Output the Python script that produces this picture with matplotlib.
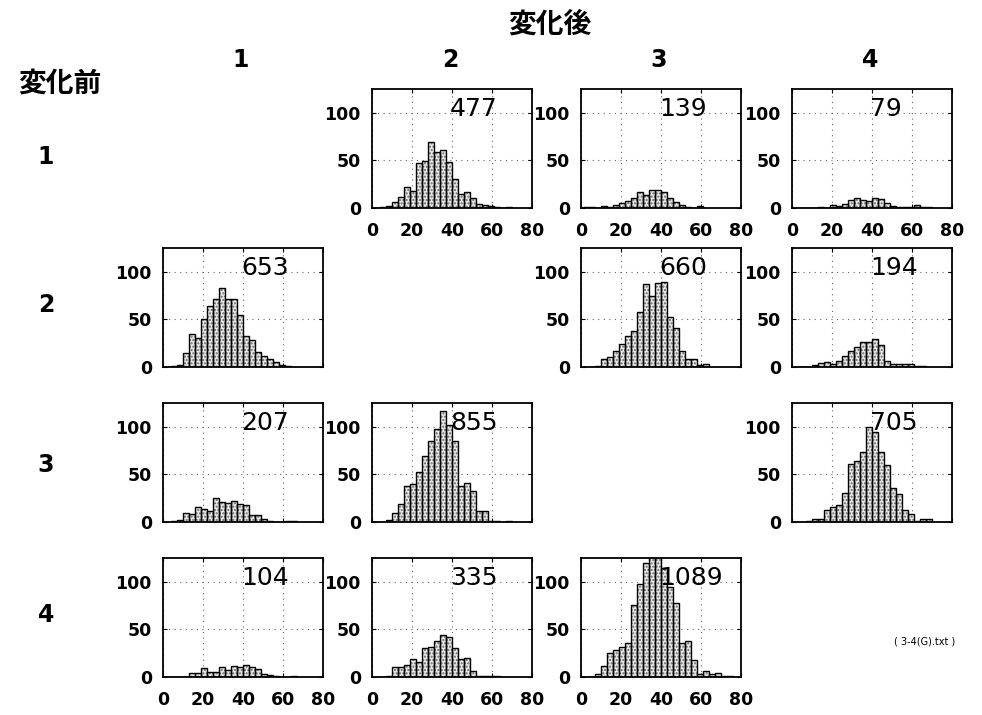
import numpy as np
import matplotlib
matplotlib.use("Agg")
import matplotlib.pyplot as plt

plt.rcParams['font.family'] = ['DejaVu Sans', 'Noto Sans CJK JP']

# histogram bins: width 3, first bin starts at 1
BIN_WIDTH = 3
BIN_LEFT = np.arange(1, 79, BIN_WIDTH)

# counts per bin (row = before, col = after)
C_1_2 = [0, 1, 2, 6, 12, 22, 18, 47, 49, 69, 59, 61, 48, 30, 15, 17, 10, 4, 3, 2, 1, 0, 1]
C_1_3 = [1, 1, 0, 2, 1, 3, 5, 7, 10, 17, 14, 19, 19, 17, 11, 6, 3, 1, 0, 2]
C_1_4 = [0, 0, 0, 0, 1, 0, 3, 2, 4, 8, 11, 8, 7, 11, 9, 5, 2, 1, 1, 1, 3, 1, 1]
C_2_1 = [0, 1, 2, 15, 35, 30, 50, 64, 71, 83, 71, 71, 55, 33, 28, 16, 12, 8, 5, 2, 1]
C_2_3 = [0, 0, 1, 8, 10, 17, 24, 33, 38, 58, 87, 75, 88, 89, 53, 41, 17, 8, 8, 2, 3]
C_2_4 = [0, 0, 0, 2, 4, 5, 3, 6, 12, 17, 21, 26, 26, 29, 23, 6, 3, 3, 3, 3, 1, 1]
C_3_1 = [0, 1, 2, 9, 8, 16, 14, 12, 25, 21, 20, 22, 19, 18, 7, 7, 3, 1, 0, 0, 1, 1]
C_3_2 = [0, 0, 2, 9, 19, 38, 40, 52, 69, 85, 98, 117, 102, 85, 38, 41, 33, 12, 12, 1, 1, 0, 1]
C_3_4 = [0, 0, 1, 3, 3, 13, 16, 18, 30, 61, 64, 74, 100, 95, 74, 60, 36, 29, 13, 8, 1, 3, 3]
C_4_1 = [0, 0, 0, 0, 4, 4, 9, 5, 5, 10, 7, 12, 10, 13, 10, 8, 3, 2, 1, 0, 0, 1]
C_4_2 = [0, 0, 1, 10, 11, 13, 19, 16, 30, 32, 38, 44, 42, 30, 19, 20, 6, 1, 1, 1, 1]
C_4_3 = [0, 0, 3, 12, 25, 28, 31, 36, 76, 98, 120, 127, 135, 115, 95, 78, 36, 38, 18, 3, 6, 3, 4, 1, 1]

TOTALS = {(1, 2): 477, (1, 3): 139, (1, 4): 79,
          (2, 1): 653, (2, 3): 660, (2, 4): 194,
          (3, 1): 207, (3, 2): 855, (3, 4): 705,
          (4, 1): 104, (4, 2): 335, (4, 3): 1089}

panels = {(1, 2): C_1_2, (1, 3): C_1_3, (1, 4): C_1_4,
          (2, 1): C_2_1, (2, 3): C_2_3, (2, 4): C_2_4,
          (3, 1): C_3_1, (3, 2): C_3_2, (3, 4): C_3_4,
          (4, 1): C_4_1, (4, 2): C_4_2, (4, 3): C_4_3}

W, H = 982, 715
fig = plt.figure(figsize=(W / 100, H / 100), dpi=100)

col_left = {1: 163, 2: 372, 3: 581, 4: 792}
row_top = {1: 89, 2: 248, 3: 403, 4: 558}
ax_w, ax_h = 160, 119

tick_font = dict(family=['DejaVu Sans'], weight='bold', size=12.5)

for (r, c), counts in panels.items():
    left = col_left[c] / W
    bottom = 1 - (row_top[r] + ax_h) / H
    ax = fig.add_axes([left, bottom, ax_w / W, ax_h / H])
    counts = np.array(counts)
    x = BIN_LEFT[:len(counts)]
    # stippled fill, then black outline on top
    ax.bar(x, counts, width=BIN_WIDTH, align='edge', color='#e8e8e8',
           hatch='.....', edgecolor='#666666', linewidth=0, zorder=2)
    ax.bar(x, counts, width=BIN_WIDTH, align='edge', fill=False,
           edgecolor='black', linewidth=1.0, zorder=3)
    ax.set_xlim(0, 80)
    ax.set_ylim(0, 125)
    ax.set_xticks([0, 20, 40, 60, 80])
    ax.set_yticks([0, 50, 100])
    ax.grid(True, linestyle=(0, (1, 4)), color='#666666', linewidth=0.8, zorder=1)
    ax.set_axisbelow(True)
    ax.tick_params(direction='in', length=3, top=True, right=True)
    ax.tick_params(axis='y', pad=8)
    ax.tick_params(axis='x', pad=10)
    for lab in ax.get_yticklabels():
        lab.set(**tick_font)
    if r in (1, 4):
        for lab in ax.get_xticklabels():
            lab.set(**tick_font)
    else:
        ax.set_xticklabels([])
    for sp in ax.spines.values():
        sp.set_linewidth(1.3)
    ax.text(39, 104, str(TOTALS[(r, c)]), fontsize=18, ha='left',
            va='center', family=['DejaVu Sans'], zorder=4)

# headers
fig.text(550 / W, 1 - 25 / H, '変化後', fontsize=20, fontweight='bold',
         ha='center', va='center', family=['Noto Sans CJK JP'])
fig.text(60 / W, 1 - 84 / H, '変化前', fontsize=20, fontweight='bold',
         ha='center', va='center', family=['Noto Sans CJK JP'])
for c in range(1, 5):
    fig.text((col_left[c] + ax_w / 2 - 2) / W, 1 - 60 / H, str(c), fontsize=17,
             fontweight='bold', ha='center', va='center')
row_y = {1: 157, 2: 305, 3: 465, 4: 615}
for r in range(1, 5):
    fig.text(46 / W, 1 - row_y[r] / H, str(r), fontsize=17,
             fontweight='bold', ha='center', va='center')

fig.text(925 / W, 1 - 642 / H, '( 3-4(G).txt )', fontsize=7,
         ha='center', va='center')

fig.savefig('out.png', dpi=100)
